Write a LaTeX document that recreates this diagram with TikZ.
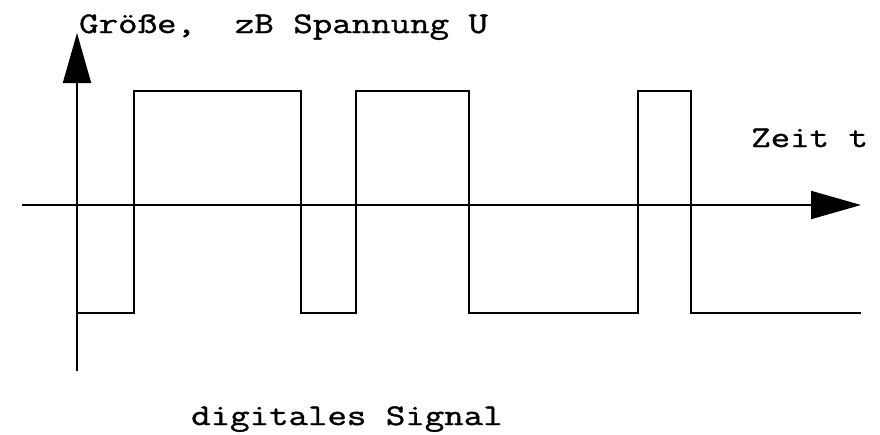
\documentclass[tikz,border=0pt]{standalone}
\usepackage{fontspec}
\newfontfamily\monofont[FakeStretch=1.26,FakeBold=1.2]{Latin Modern Mono}
\usetikzlibrary{arrows.meta}
\begin{document}
\begin{tikzpicture}[x=1pt,y=-1pt,
  axis/.style={line width=2pt,-{Triangle[length=50pt,width=28pt]}},
  signal/.style={line width=2pt,line join=miter},
  lbl/.style={font=\monofont\fontsize{30}{30}\selectfont,inner sep=0pt,anchor=base west}]
\useasboundingbox (0,0) rectangle (880,434);
% axes
\coordinate (ybot) at (77,371);
\coordinate (ytop) at (77,33);
\coordinate (xl) at (22,205);
\coordinate (xr) at (861,205);
\draw[axis] (ybot) -- (ytop);
\draw[axis] (xl) -- (xr);
% signal
\coordinate (s0) at (77,313);
\coordinate (s1) at (134,313);
\coordinate (s2) at (134,91);
\coordinate (s3) at (301,91);
\coordinate (s4) at (301,313);
\coordinate (s5) at (356,313);
\coordinate (s6) at (356,91);
\coordinate (s7) at (469,91);
\coordinate (s8) at (469,313);
\coordinate (s9) at (638,313);
\coordinate (s10) at (638,91);
\coordinate (s11) at (691,91);
\coordinate (s12) at (691,313);
\coordinate (s13) at (861,313);
\draw[signal] (s0) -- (s1) -- (s2) -- (s3) -- (s4) -- (s5) -- (s6) -- (s7) -- (s8) -- (s9) -- (s10) -- (s11) -- (s12) -- (s13);
% labels
\node[lbl] (ylabel) at (79,33) {Größe,~~zB Spannung U};
\node[lbl] (xlabel) at (751,147) {Zeit t};
\node[lbl] (title) at (191,425) {digitales Signal};
\end{tikzpicture}
\end{document}
